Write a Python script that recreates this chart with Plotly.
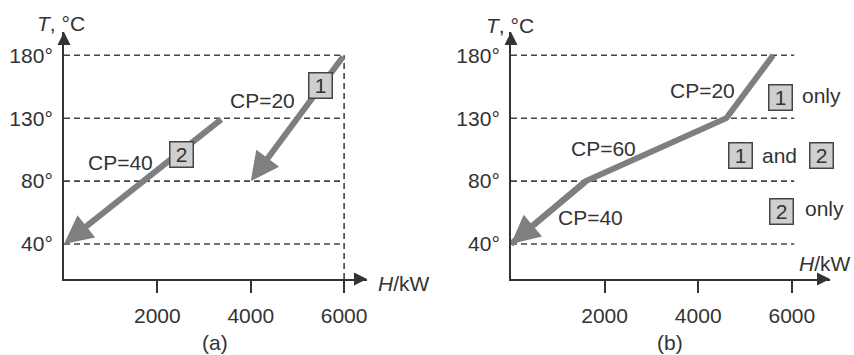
import plotly.graph_objects as go

# ---- data ----
temp_levels = [40, 80, 130, 180]          # temperature intervals, °C
h_ticks = [2000, 4000, 6000]              # enthalpy axis ticks, kW

# panel (a): individual hot streams, (start H, start T) -> (end H, end T)
stream1_H = [6000, 4000]
stream1_T = [180, 80]
stream2_H = [3400, 0]
stream2_T = [130, 40]

# panel (b): composite curve
comp_H = [5600, 4600, 1600, 0]
comp_T = [180, 130, 80, 40]

W, H = 854, 355
FONT = "Liberation Sans, Arial, sans-serif"
FS = 21
TXT = "#333333"
STREAM = "#7f7f7f"
DASH = "#444444"


def lab(t):
    return f"{t}°"


def px(x):
    return x / W


def py(y):
    return 1 - y / H


fig = go.Figure()

ydom = [py(279), py(32)]
xdom_a = [px(64), px(367)]
xdom_b = [px(511), px(830)]
cats = [lab(t) for t in temp_levels]

common_y = dict(
    type="category", categoryorder="array", categoryarray=cats,
    range=[-0.556, 3.37], domain=ydom, showgrid=False, zeroline=False,
    showline=True, linecolor=TXT, linewidth=2, ticks="",
    tickfont=dict(family=FONT, size=FS, color=TXT), ticklabelstandoff=5,
)
common_x = dict(
    showgrid=False, zeroline=False, showline=True, linecolor=TXT, linewidth=2,
    tickmode="array", tickvals=h_ticks, ticktext=[str(v) for v in h_ticks],
    ticks="outside", ticklen=12, tickwidth=2, tickcolor=TXT,
    tickfont=dict(family=FONT, size=FS, color=TXT), ticklabelstandoff=5,
)

fig.update_layout(
    width=W, height=H, margin=dict(l=0, r=0, t=0, b=0),
    paper_bgcolor="white", plot_bgcolor="white", showlegend=False,
    xaxis=dict(domain=xdom_a, range=[0, 6490], anchor="y", **common_x),
    yaxis=dict(anchor="x", **common_y),
    xaxis2=dict(domain=xdom_b, range=[0, 6815], anchor="y2", **common_x),
    yaxis2=dict(anchor="x2", **common_y),
)

dash_line = dict(color=DASH, width=1.6, dash="6px,4px")

# dashed temperature levels
for t in temp_levels:
    fig.add_trace(go.Scatter(x=[0, 6000], y=[lab(t)] * 2, mode="lines",
                             line=dash_line, xaxis="x", yaxis="y", hoverinfo="skip"))
    fig.add_trace(go.Scatter(x=[0, 6050], y=[lab(t)] * 2, mode="lines",
                             line=dash_line, xaxis="x2", yaxis="y2", hoverinfo="skip"))

# vertical dashed marker at 6000 kW in panel (a)
fig.add_shape(type="line", xref="x", yref="y", x0=6000, x1=6000, y0=-0.556,
              y1=lab(180), line=dash_line)

# composite curve body in panel (b)
fig.add_trace(go.Scatter(x=comp_H, y=[lab(t) for t in comp_T], mode="lines",
                         line=dict(color=STREAM, width=6), xaxis="x2", yaxis="y2",
                         hoverinfo="skip"))

ann = []


def stream_arrow(h, t, xr, yr):
    ann.append(dict(
        x=h[-1], y=lab(t[-1]), ax=h[-2], ay=lab(t[-2]), xref=xr, yref=yr,
        axref=xr, ayref=yr, showarrow=True, arrowhead=2, arrowsize=0.95,
        arrowwidth=6, arrowcolor=STREAM, text="",
    ))


stream_arrow(stream1_H, stream1_T, "x", "y")
stream_arrow(stream2_H, stream2_T, "x", "y")
stream_arrow(comp_H, comp_T, "x2", "y2")

# axis arrowheads
for xd, yd in (("x domain", "y domain"), ("x2 domain", "y2 domain")):
    ann.append(dict(x=1, y=0, xref=xd, yref=yd, ax=-14, ay=0, showarrow=True,
                    arrowhead=2, arrowsize=1.3, arrowwidth=2, arrowcolor=TXT, text=""))
    ann.append(dict(x=0, y=1, xref=xd, yref=yd, ax=0, ay=14, showarrow=True,
                    arrowhead=2, arrowsize=1.3, arrowwidth=2, arrowcolor=TXT, text=""))


def text(s, x, y, xanchor="center", size=FS):
    ann.append(dict(text=s, x=px(x), y=py(y), xref="paper", yref="paper",
                    xanchor=xanchor, yanchor="middle", showarrow=False,
                    font=dict(family=FONT, size=size, color=TXT)))


def box(s, x, y):
    ann.append(dict(text=s, x=px(x), y=py(y), xref="paper", yref="paper",
                    xanchor="center", yanchor="middle", showarrow=False,
                    bgcolor="#cfcfcf", bordercolor="#444444", borderwidth=1.5,
                    borderpad=1, width=20, height=22,
                    font=dict(family=FONT, size=FS, color=TXT)))


# panel (a) labels
text("<i>T</i>, °C", 61, 23)
text("<i>H</i>/kW", 376, 283, xanchor="left")
text("(a)", 215, 342)
text("CP=20", 262, 100)
text("CP=40", 121, 162)
box("1", 320, 85)
box("2", 181, 154)

# panel (b) labels
text("<i>T</i>, °C", 510, 25)
text("<i>H</i>/kW", 797, 263, xanchor="left")
text("(b)", 670, 342)
text("CP=20", 702, 90)
text("CP=60", 603, 148)
text("CP=40", 590, 218)
box("1", 780, 97)
text("only", 800, 96, xanchor="left")
box("1", 740, 155)
text("and", 760, 155, xanchor="left")
box("2", 821, 155)
box("2", 781, 211)
text("only", 803, 208, xanchor="left")

fig.update_layout(annotations=ann)
fig.write_html("out.html")
